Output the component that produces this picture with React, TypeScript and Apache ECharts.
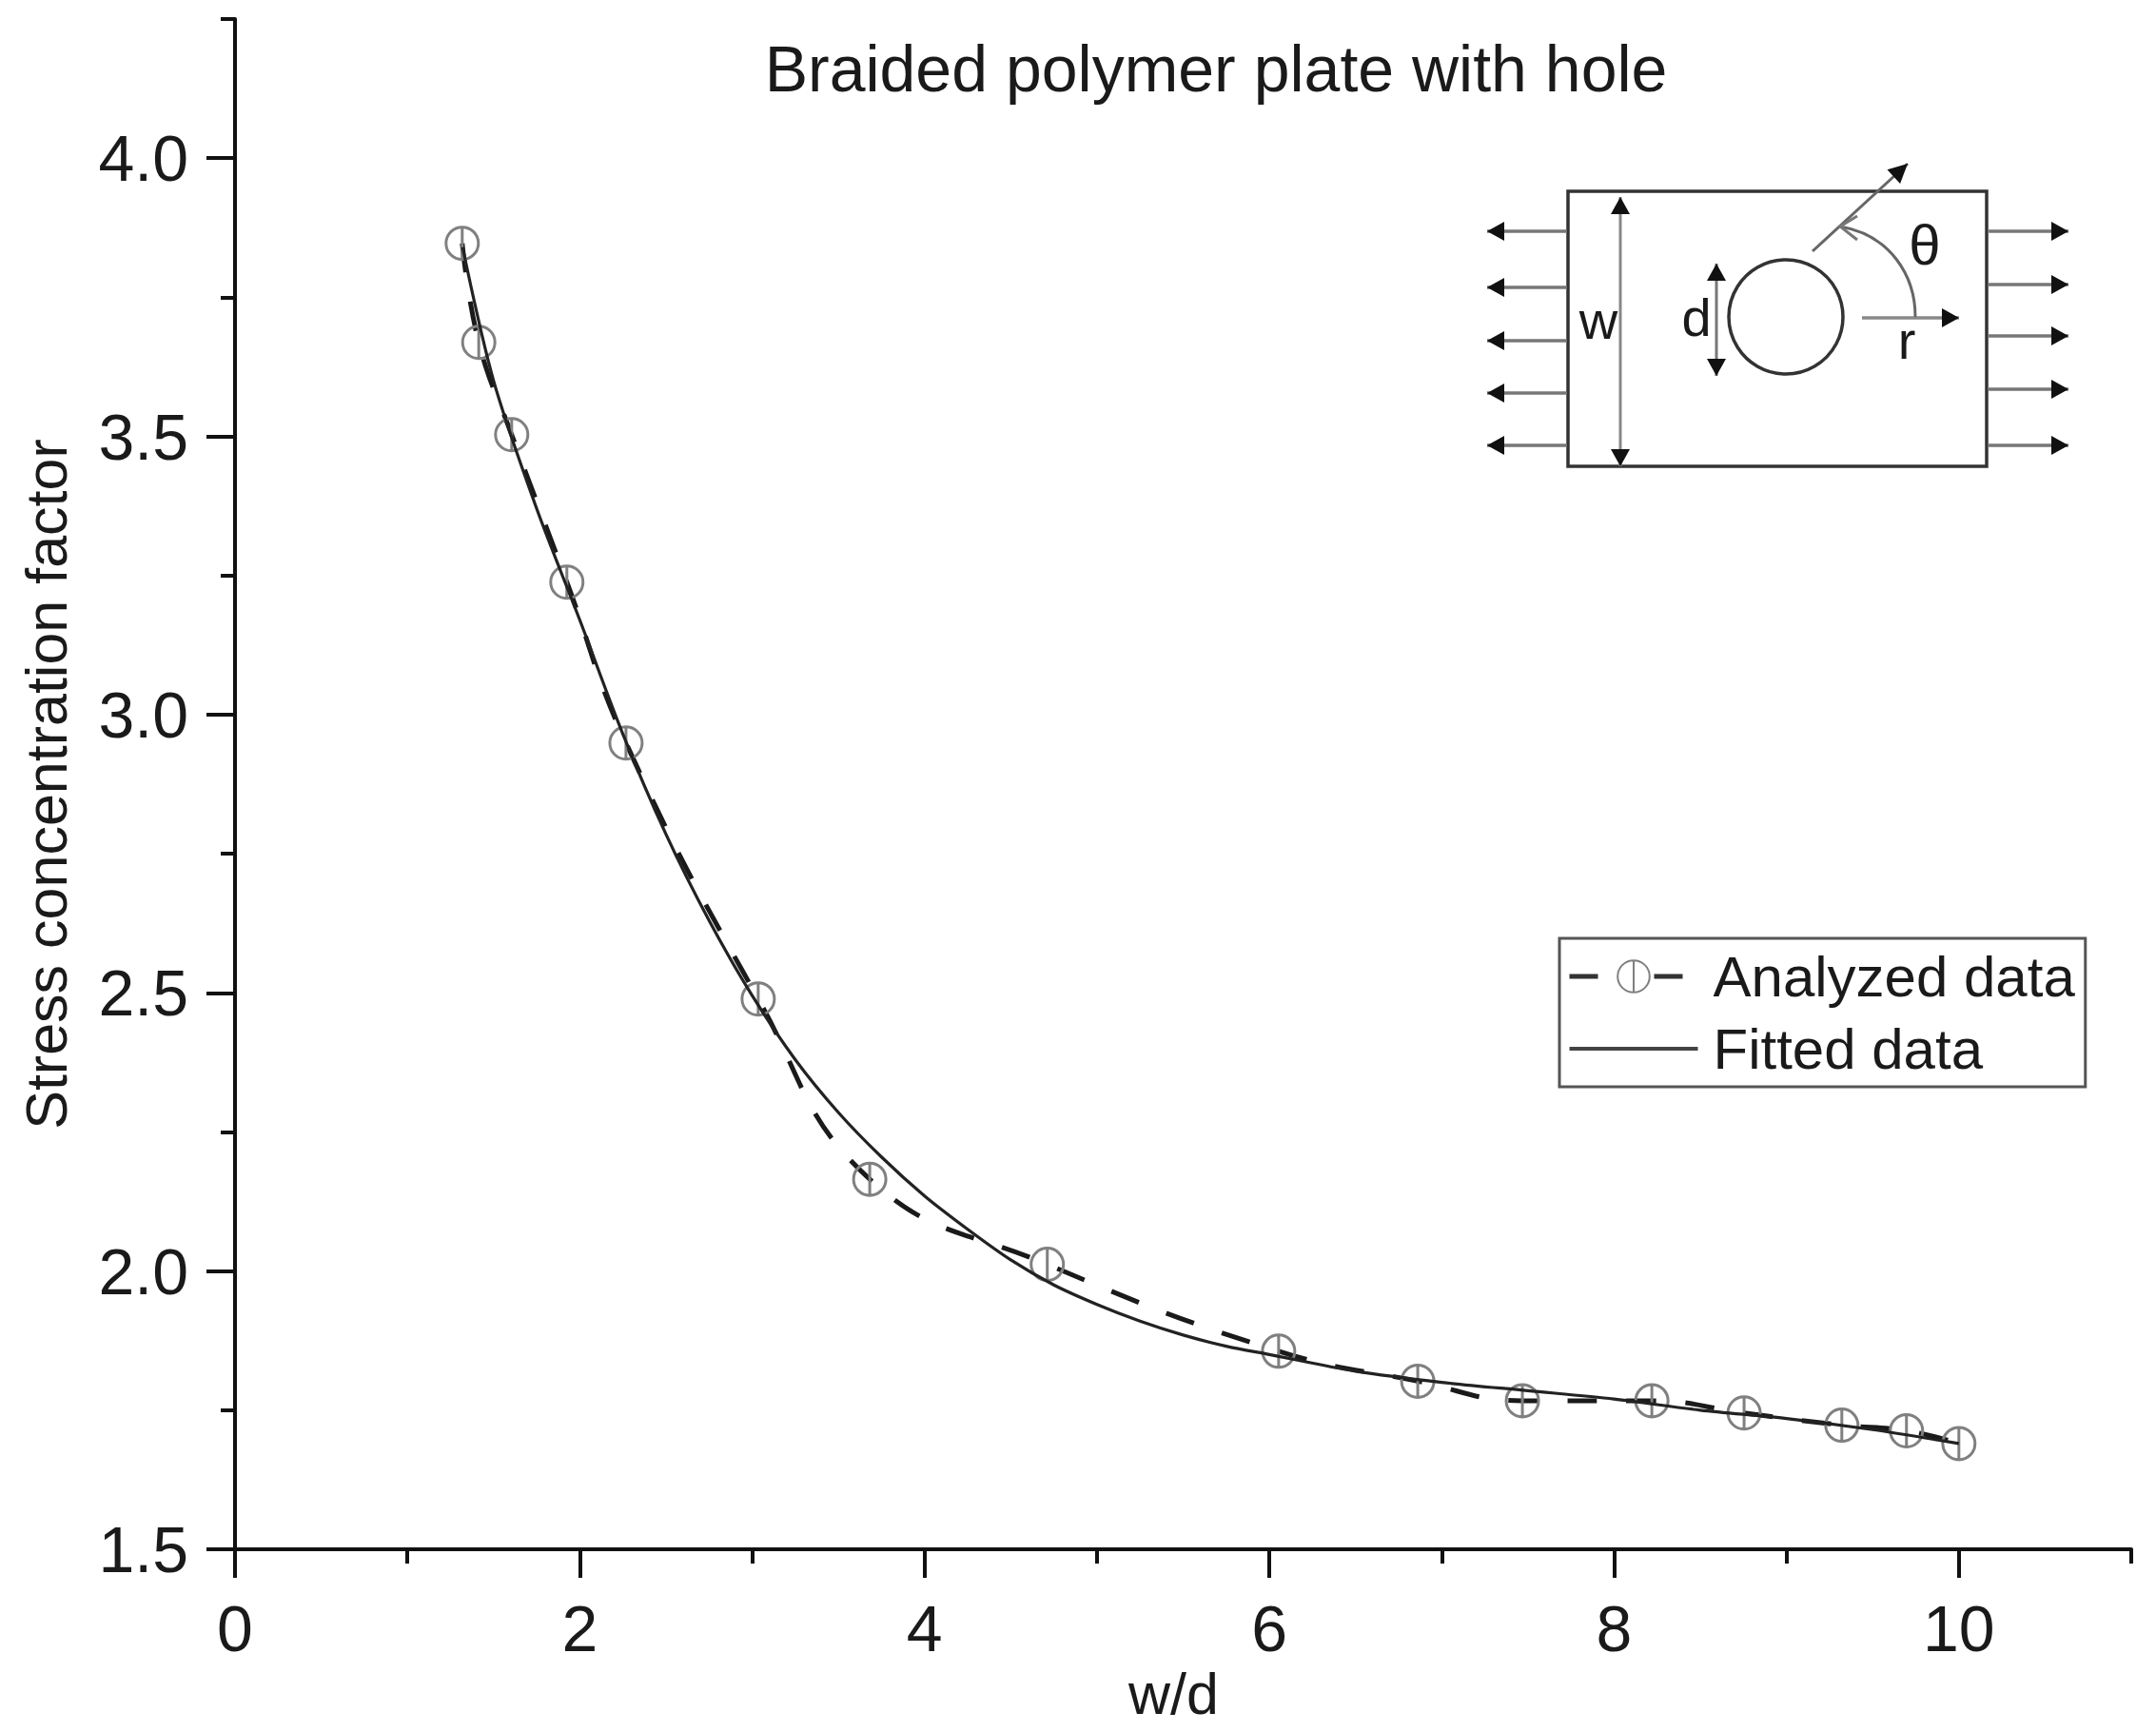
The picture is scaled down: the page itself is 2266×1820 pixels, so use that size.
import React, { useEffect, useRef } from "react";
import * as echarts from "echarts";

const analyzedX = [1.318, 1.414, 1.605, 1.925, 2.268, 3.035, 3.682, 4.712, 6.054, 6.861, 7.468, 8.219, 8.754, 9.321, 9.696, 10.0];
const analyzedY = [3.847, 3.669, 3.503, 3.238, 2.949, 2.489, 2.165, 2.012, 1.856, 1.802, 1.767, 1.767, 1.745, 1.723, 1.713, 1.69];
const fittedX = [1.32, 1.5, 1.75, 2.0, 2.25, 2.5, 2.75, 3.0, 3.25, 3.5, 3.75, 4.0, 4.25, 4.5, 4.75, 5.0, 5.25, 5.5, 5.75, 6.0, 6.5, 7.0, 7.5, 8.0, 8.5, 9.0, 9.5, 10.0];
const fittedY = [3.84, 3.6, 3.37, 3.17, 2.965, 2.785, 2.63, 2.495, 2.38, 2.285, 2.205, 2.135, 2.075, 2.02, 1.975, 1.94, 1.91, 1.885, 1.865, 1.85, 1.82, 1.8, 1.785, 1.77, 1.75, 1.735, 1.715, 1.69];
const xMajorTicks = [0, 2, 4, 6, 8, 10];
const xMinorTicks = [1, 3, 5, 7, 9, 11];
const yMajorTicks = [1.5, 2, 2.5, 3, 3.5, 4];
const yMinorTicks = [1.75, 2.25, 2.75, 3.25, 3.75, 4.25];

const FONT = "Liberation Sans";
const INK = "#1a1a1a";
const AXIS = "#111";
const MARK = "path://M2 20A18 18 0 1 0 38 20A18 18 0 1 0 2 20ZM20 2L20 38";

function arrow(x1: number, y1: number, x2: number, y2: number, color: string, width: number, len = 18, half = 10, both = false) {
  const a = Math.atan2(y2 - y1, x2 - x1);
  const head = (x: number, y: number, t: number) => ({
    type: "polygon",
    silent: true,
    shape: {
      points: [
        [x, y],
        [x - len * Math.cos(t) - half * Math.sin(t), y - len * Math.sin(t) + half * Math.cos(t)],
        [x - len * Math.cos(t) + half * Math.sin(t), y - len * Math.sin(t) - half * Math.cos(t)],
      ],
    },
    style: { fill: "#111" },
  });
  const items: any[] = [
    { type: "line", silent: true, shape: { x1, y1, x2, y2 }, style: { stroke: color, lineWidth: width } },
    head(x2, y2, a),
  ];
  if (both) items.push(head(x1, y1, a + Math.PI));
  return items;
}

function label(text: string, x: number, y: number, size: number) {
  return {
    type: "text",
    silent: true,
    x,
    y,
    style: { text, fontFamily: FONT, fontSize: size, fill: INK, align: "center", verticalAlign: "middle" },
  };
}

function inset() {
  const items: any[] = [
    { type: "rect", silent: true, shape: { x: 1648, y: 201, width: 440, height: 289 }, style: { fill: "#fff", stroke: "#333", lineWidth: 3.5 } },
    { type: "circle", silent: true, shape: { cx: 1877, cy: 333, r: 60 }, style: { fill: "none", stroke: "#333", lineWidth: 3.5 } },
  ];
  [243, 302, 358, 413, 468].forEach((y) => items.push(...arrow(1647, y, 1563, y, "#777", 3.5)));
  [243, 299, 353, 409, 468].forEach((y) => items.push(...arrow(2089, y, 2174, y, "#777", 3.5)));
  items.push(...arrow(1703, 207, 1703, 490, "#888", 3, 18, 10, true));
  items.push(...arrow(1804, 277, 1804, 395, "#777", 3, 18, 10, true));
  items.push(...arrow(1957, 334, 2059, 334, "#888", 3.5));
  items.push(...arrow(1905, 264, 2005, 172, "#666", 3, 20, 10));
  items.push({
    type: "bezierCurve",
    silent: true,
    shape: { x1: 2013, y1: 333, cpx1: 2013, cpy1: 290, cpx2: 1987, cpy2: 247, x2: 1934, y2: 238 },
    style: { fill: "none", stroke: "#666", lineWidth: 3 },
  });
  items.push({
    type: "polyline",
    silent: true,
    shape: { points: [[1952, 227], [1934, 238], [1952, 252]] },
    style: { fill: "none", stroke: "#777", lineWidth: 3 },
  });
  items.push(label("θ", 2023, 257, 60), label("w", 1680, 336, 56), label("d", 1783, 333, 56), label("r", 2004, 357, 56));
  return items;
}

export default function App() {
  const ref = useRef<HTMLDivElement>(null);
  useEffect(() => {
    document.body.style.margin = "0";
    const chart = echarts.init(ref.current!, undefined, { renderer: "svg" });
    const minorAxis = (min: number, max: number, interval: number, ticks: number[]) => ({
      type: "value",
      min,
      max,
      interval,
      axisLine: { show: false, onZero: false },
      axisTick: { show: true, length: 15, customValues: ticks, lineStyle: { color: AXIS, width: 4 } },
      axisLabel: { show: false },
      splitLine: { show: false },
    });
    chart.setOption({
      animation: false,
      backgroundColor: "#fff",
      title: {
        text: "Braided polymer plate with hole",
        left: 1278,
        top: 72,
        padding: 0,
        textAlign: "center",
        textVerticalAlign: "middle",
        textStyle: { fontFamily: FONT, fontSize: 68, fontWeight: "normal", color: INK },
      },
      grid: { left: 247, right: 26, top: 20, bottom: 192, outerBoundsMode: "none" },
      xAxis: [
        {
          type: "value",
          min: 0,
          max: 11,
          interval: 2,
          name: "w/d",
          nameLocation: "middle",
          nameGap: 118,
          nameTextStyle: { fontFamily: FONT, fontSize: 61, color: INK, padding: [0, 20, 0, 0] },
          axisLine: { show: true, onZero: false, lineStyle: { color: AXIS, width: 4 } },
          axisTick: { show: true, length: 30, customValues: xMajorTicks, lineStyle: { color: AXIS, width: 4 } },
          axisLabel: { fontFamily: FONT, fontSize: 68, color: INK, margin: 49, customValues: xMajorTicks },
          splitLine: { show: false },
        },
        { ...minorAxis(0, 11, 1, xMinorTicks), position: "bottom" },
      ],
      yAxis: [
        {
          type: "value",
          min: 1.5,
          max: 4.25,
          interval: 0.5,
          name: "Stress concentration factor",
          nameLocation: "middle",
          nameGap: 168,
          nameTextStyle: { fontFamily: FONT, fontSize: 61, color: INK },
          axisLine: { show: true, onZero: false, lineStyle: { color: AXIS, width: 4 } },
          axisTick: { show: true, length: 30, customValues: yMajorTicks, lineStyle: { color: AXIS, width: 4 } },
          axisLabel: { fontFamily: FONT, fontSize: 68, color: INK, margin: 49, customValues: yMajorTicks, formatter: (v: number) => v.toFixed(1) },
          splitLine: { show: false },
        },
        { ...minorAxis(1.5, 4.25, 0.25, yMinorTicks), position: "left" },
      ],
      legend: {
        left: 1639,
        top: 986,
        orient: "vertical",
        padding: [10, 11, 10, 8],
        itemGap: 16,
        itemWidth: 135,
        itemHeight: 42,
        align: "left",
        borderColor: "#555",
        borderWidth: 3,
        backgroundColor: "#fff",
        textStyle: { fontFamily: FONT, fontSize: 60, color: INK, padding: [0, 0, 0, 11] },
        data: [
          { name: "Analyzed data", lineStyle: { type: [30, 59, 30, 100], width: 5, color: "#333" } },
          { name: "Fitted data", lineStyle: { width: 4, color: "#444" } },
        ],
      },
      series: [
        {
          name: "Analyzed data",
          type: "line",
          data: analyzedX.map((x, i) => [x, analyzedY[i]]),
          symbol: MARK,
          symbolSize: 34,
          showAllSymbol: true,
          smooth: 0.45,
          lineStyle: { color: "#1a1a1a", width: 5, type: [31, 31] },
          itemStyle: { color: "rgba(255,255,255,0)", borderColor: "#808080", borderWidth: 3 },
          z: 2,
        },
        {
          name: "Fitted data",
          type: "line",
          data: fittedX.map((x, i) => [x, fittedY[i]]),
          symbol: "none",
          smooth: 0.3,
          lineStyle: { color: "#222", width: 3.2 },
          itemStyle: { color: "rgba(0,0,0,0)", borderWidth: 0 },
          z: 3,
        },
      ],
      graphic: inset(),
    });
    return () => chart.dispose();
  }, []);
  return <div ref={ref} style={{ width: 2266, height: 1820, position: "absolute", left: 0, top: 0 }} />;
}
